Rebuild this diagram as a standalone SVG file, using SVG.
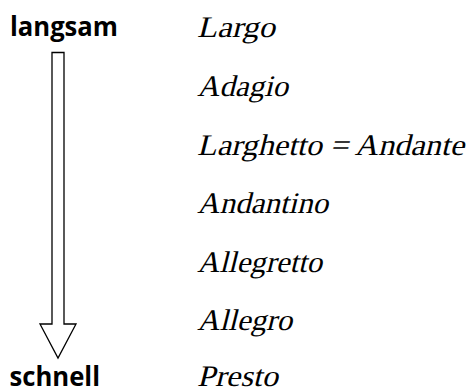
<svg xmlns="http://www.w3.org/2000/svg" width="468" height="390" viewBox="0 0 468 390">
<style>
.lbl{font-family:"Open Sans","Liberation Sans",sans-serif;font-weight:bold;font-size:26px;fill:#000}
.t{font-family:"Liberation Serif","Times New Roman",serif;font-size:30px;fill:#000}
.arrow{fill:#fff;stroke:#000;stroke-width:1.3}
</style>
<rect width="468" height="390" fill="#fff"/>
<g id="langsam"><text class="lbl" x="10" y="36" textLength="108" lengthAdjust="spacingAndGlyphs">langsam</text></g>
<g id="schnell"><text class="lbl" x="9.5" y="386" textLength="90.5" lengthAdjust="spacingAndGlyphs">schnell</text></g>
<g id="connectors">
<path class="arrow" d="M52,52.5 H64 V324 H76 L58,358 L40,324 H52 Z"/>
</g>
<g id="largo" transform="translate(197,36.7) skewX(-14)"><text class="t" x="0" y="0" textLength="78" lengthAdjust="spacingAndGlyphs">Largo</text></g>
<g id="adagio" transform="translate(197,95.5) skewX(-14)"><text class="t" x="0" y="0" textLength="91" lengthAdjust="spacingAndGlyphs">Adagio</text></g>
<g id="larghetto" transform="translate(197,154.5) skewX(-14)"><text class="t" x="0" y="0" textLength="267" lengthAdjust="spacingAndGlyphs">Larghetto = Andante</text></g>
<g id="andantino" transform="translate(197,213) skewX(-14)"><text class="t" x="0" y="0" textLength="131" lengthAdjust="spacingAndGlyphs">Andantino</text></g>
<g id="allegretto" transform="translate(197,271.5) skewX(-14)"><text class="t" x="0" y="0" textLength="125" lengthAdjust="spacingAndGlyphs">Allegretto</text></g>
<g id="allegro" transform="translate(197,330) skewX(-14)"><text class="t" x="0" y="0" textLength="95" lengthAdjust="spacingAndGlyphs">Allegro</text></g>
<g id="presto" transform="translate(197,385.5) skewX(-14)"><text class="t" x="0" y="0" textLength="81" lengthAdjust="spacingAndGlyphs">Presto</text></g>
</svg>
